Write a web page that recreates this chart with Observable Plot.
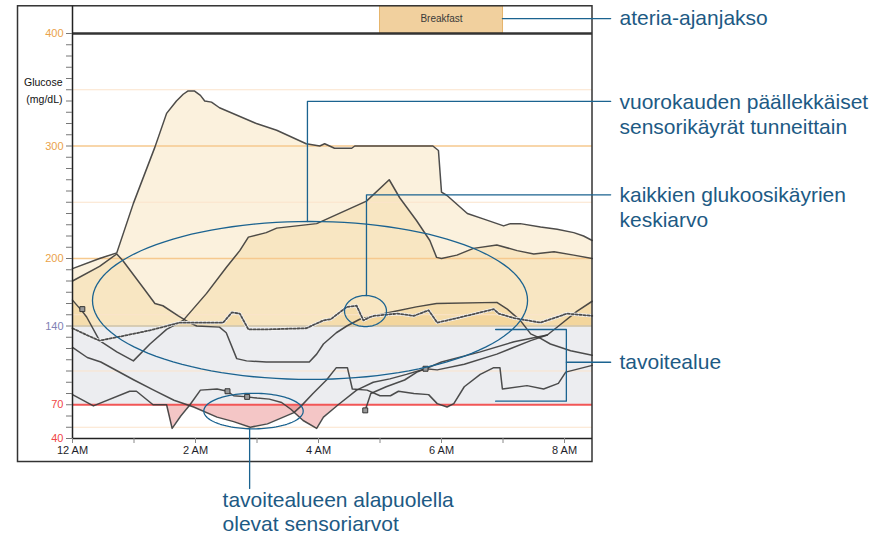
<!DOCTYPE html>
<html><head><meta charset="utf-8">
<script src="https://cdn.jsdelivr.net/npm/d3@7"></script>
<script src="https://cdn.jsdelivr.net/npm/@observablehq/plot@0.6"></script>
<style>body{margin:0;background:#fff;font-family:"Liberation Sans",Arial,sans-serif}</style>
</head><body><div id="chart"></div>
<script>
// ---- data: hours after midnight, glucose mg/dL ----
const curveA = [[0,191],[0.44,200],[0.72,205],[0.99,249],[1.34,299],[1.53,329],[1.69,340],[1.8,346],[1.88,349],[1.98,349],[2.08,345],[2.15,340],[2.26,339],[2.39,334],[2.99,320],[3.32,314],[3.80,302],[4.02,300],[4.1,302],[4.26,298],[4.54,298],[4.59,300],[5.86,300],[5.95,296],[6.0,259],[6.09,256],[6.42,240],[6.69,235],[7.01,229],[7.12,231],[7.28,231],[7.61,228],[7.88,226],[8.15,223],[8.31,220],[8.45,216]];
const curveB = [[0,180],[0.44,193],[0.72,204],[0.82,198],[1.15,174],[1.34,160],[1.47,158],[1.72,149],[1.9,143],[2.02,140],[2.39,139],[2.5,134],[2.67,111],[2.83,109],[3.15,108],[3.85,108],[3.97,115],[4.08,124],[4.29,134],[4.46,140],[4.67,146],[5.15,152],[5.59,157],[5.92,160],[6.9,161],[7.07,155],[7.28,145],[7.45,133],[7.61,129],[7.77,124],[8.1,118],[8.45,114]];
const curveC = [[0,163],[0.16,153],[0.23,148],[0.44,127],[0.72,117],[0.99,109],[1.26,124],[1.53,137],[1.8,145],[2.18,169],[2.5,192],[2.72,207],[2.86,219],[3.15,223],[3.32,227],[3.97,231],[4.78,251],[5.15,270],[5.32,254],[5.59,234],[5.81,216],[5.92,201],[6.0,200],[6.25,203],[6.52,209],[6.9,212],[7.23,207],[7.5,204],[7.83,206],[8.15,203],[8.45,200]];
const curveD = [[0,121],[0.24,112],[0.46,108],[0.73,100],[1.0,92],[1.32,83],[1.65,74],[1.97,68],[2.35,59],[2.62,55],[2.89,50],[3.17,53],[3.6,63],[3.72,69],[3.91,80],[4.13,92],[4.29,103],[4.47,103],[4.55,84],[4.79,83],[5.0,78],[5.17,78],[5.3,82],[5.55,80],[5.79,79],[5.93,71],[6.09,68],[6.2,71],[6.37,86],[6.63,97],[6.85,103],[6.95,103],[6.99,84],[7.39,87],[7.66,84],[7.9,89],[8.02,99],[8.45,105]];
const curveE = [[0,79],[0.34,69],[0.93,82],[1.04,82],[1.31,70],[1.53,70],[1.62,49],[1.76,60],[1.91,70],[2.08,83],[2.35,84],[2.52,82],[2.62,78],[2.84,77],[3.0,76],[3.2,75],[3.4,72],[3.55,66],[3.75,56],[3.97,49],[4.08,59],[4.32,70],[4.62,83],[4.89,90],[5.16,93],[5.43,97],[5.74,102],[5.93,101],[6.37,106],[6.9,115],[7.45,127],[7.72,132],[7.95,142],[8.2,153],[8.45,162]];
const curveF = [[4.76,65],[4.85,80],[5.1,86],[5.4,92],[5.6,99],[5.74,102],[6.0,108],[6.63,117],[7.18,126],[7.72,132]];
const meanCurve = [[0,138],[0.23,132],[0.44,127],[0.72,130],[1.25,136],[1.53,140],[1.74,143],[2.45,143],[2.59,152],[2.72,151],[2.86,137],[3.15,137],[3.8,138],[4.08,145],[4.2,146],[4.46,157],[4.62,158],[4.73,145],[4.84,148],[4.9,149],[5.28,151],[5.55,149],[5.79,154],[5.93,143],[6.25,147],[6.63,152],[6.85,155],[6.93,151],[7.18,147],[7.61,143],[8.04,151],[8.45,149]];
const meterReadings = [[0.16,155],[2.52,82],[2.84,77],[4.76,65],[5.74,102]];
const meals = [{name: "Breakfast", start: 5, end: 7}];
const targetLow = 70, targetHigh = 140;
const yTickLabels = [40, 70, 140, 200, 300, 400];
const yTickColors = ["#f04646", "#f04646", "#8181b4", "#eaa24a", "#eaa24a", "#eaa24a"];
const xTickHours = [0,1,2,3,4,5,6,7,8];
const xTickText = {0: "12 AM", 2: "2 AM", 4: "4 AM", 6: "6 AM", 8: "8 AM"};
const xEnd = 8.455;

// annotations (data units)
const calloutSegments = [
  {id: "meal", pts: [[6.99,413.3],[8.75,413.3]]},
  {id: "overlay", pts: [[3.82,232.9],[3.82,339.6],[8.75,339.6]]},
  {id: "mean", pts: [[4.78,167.1],[4.78,256.6],[8.75,256.6]]},
  {id: "target", pts: [[6.88,136.9],[8.03,136.9],[8.03,73.2],[6.88,73.2]]},
  {id: "target2", pts: [[8.03,107.8],[8.75,107.8]]},
  {id: "below", pts: [[2.88,48.6],[2.88,-4.4]]}
];
const calloutEllipses = [
  {id: "e1", cx: 3.862, cy: 162.7, rx: 3.537, ry: 70.2},
  {id: "e2", cx: 4.764, cy: 153.3, rx: 0.341, ry: 13.8},
  {id: "e3", cx: 2.943, cy: 64.4, rx: 0.808, ry: 15.8}
];
const calloutText = [
  {text: "ateria-ajanjakso", h: 8.894, v: 413.3},
  {text: "vuorokauden päällekkäiset", h: 8.894, v: 338.7},
  {text: "sensorikäyrät tunneittain", h: 8.894, v: 316.4},
  {text: "kaikkien glukoosikäyrien", h: 8.894, v: 256.0},
  {text: "keskiarvo", h: 8.894, v: 233.8},
  {text: "tavoitealue", h: 8.894, v: 107.6},
  {text: "tavoitealueen alapuolella", h: 2.44, v: -15.1},
  {text: "olevat sensoriarvot", h: 2.44, v: -36.4}
];
const axisTitle = [{text: "Glucose", v: 356.4}, {text: "(mg/dL)", v: 341.3}];
const outerFrame = {x1: -0.886, x2: xEnd, y1: 19.1, y2: 424.2};

// ---- build rows ----
const sensorSeries = [["A",curveA],["B",curveB],["C",curveC],["D",curveD],["E",curveE],["F",curveF]];
const sensorRows = sensorSeries.flatMap(([id, pts]) => pts.map(([h, v]) => ({id, h, v})));
const meanRows = meanCurve.map(([h, v]) => ({id: "mean", h, v}));

// fill geometry: the part of each curve beyond a threshold (the line's own crossing points)
function beyond(pts, thr, above) {
  const out = [];
  pts.forEach(([h, v], i) => {
    if (i > 0) {
      const [h0, v0] = pts[i - 1];
      if ((v0 - thr) * (v - thr) < 0) {
        const t = (thr - v0) / (v - v0);
        out.push([h0 + t * (h - h0), thr]);
      }
    }
    out.push([h, above ? Math.max(v, thr) : Math.min(v, thr)]);
  });
  return out;
}
const fillSeries = sensorSeries.concat([["mean", meanCurve]]);
const aboveRows = fillSeries.flatMap(([id, pts]) => beyond(pts, targetHigh, true).map(([h, v]) => ({id, h, v})));
const belowRows = fillSeries.flatMap(([id, pts]) => beyond(pts, targetLow, false).map(([h, v]) => ({id, h, v})));

const meterRows = meterReadings.map(([h, v]) => ({h, v}));
const segRows = calloutSegments.flatMap(s => s.pts.map(([h, v]) => ({id: s.id, h, v})));
const ellRows = calloutEllipses.flatMap(e => d3.range(0, 361, 3).map(a => ({id: e.id, h: e.cx + e.rx * Math.cos(a * Math.PI / 180), v: e.cy + e.ry * Math.sin(a * Math.PI / 180)})));
const yLabelRows = yTickLabels.map((v, i) => ({v, color: yTickColors[i]}));

const blue = "#1b6390";
const plot = Plot.plot({
  width: 892, height: 540,
  marginLeft: 72, marginRight: 300, marginTop: 33, marginBottom: 102,
  x: {domain: [0, xEnd]},
  y: {domain: [40, 400]},
  style: {fontFamily: "'Liberation Sans', Arial, sans-serif", background: "white", overflow: "visible"},
  marks: [
    Plot.rect([{lo: targetLow, hi: targetHigh}], {x1: 0, x2: xEnd, y1: "lo", y2: "hi", fill: "#ecedf0"}),
    Plot.areaY(aboveRows, {x: "h", y1: targetHigh, y2: "v", z: "id", fill: "#eebd66", fillOpacity: 0.22}),
    Plot.areaY(belowRows, {x: "h", y1: targetLow, y2: "v", z: "id", fill: "#de5858", fillOpacity: 0.34}),
    Plot.ruleY([50, 100, 150, 250, 350], {x1: 0, x2: xEnd, stroke: "#fbe3cb", strokeWidth: 1}),
    Plot.ruleY([200, 300], {x1: 0, x2: xEnd, stroke: "#f6c98e", strokeWidth: 1.3}),
    Plot.ruleY([targetHigh], {x1: 0, x2: xEnd, stroke: "#cfc2a4", strokeWidth: 1.5}),
    Plot.ruleY([targetLow], {x1: 0, x2: xEnd, stroke: "#f25656", strokeWidth: 2}),
    Plot.line(sensorRows, {x: "h", y: "v", z: "id", stroke: "#3a3a3a", strokeWidth: 1.5, strokeOpacity: 0.9}),
    Plot.line(meanRows, {x: "h", y: "v", stroke: "#f3f3f3", strokeWidth: 3.2}),
    Plot.line(meanRows, {x: "h", y: "v", stroke: "#4e4e4e", strokeWidth: 1.8, strokeDasharray: "2.2,1.8"}),
    Plot.dot(meterRows, {x: "h", y: "v", symbol: "square", r: 2.8, fill: "#9a9a9a", stroke: "#333", strokeWidth: 1}),
    // header + frame
    Plot.rect(meals, {x1: "start", x2: "end", y1: 400, y2: 424.2, fill: "#f1d09e", stroke: "#e6b56c"}),
    Plot.text(meals, {x: d => (d.start + d.end) / 2, y: 413.3, text: "name", fontSize: 10, fill: "#3a3a3a"}),
    Plot.rect([outerFrame], {x1: "x1", x2: "x2", y1: "y1", y2: "y2", fill: "none", stroke: "#333", strokeWidth: 1.5}),
    Plot.ruleY([400], {x1: 0, x2: xEnd, stroke: "#333", strokeWidth: 2.5}),
    Plot.ruleY([40], {x1: 0, x2: xEnd, stroke: "#222", strokeWidth: 1.5}),
    Plot.ruleX([0], {y1: 40, y2: 424.2, stroke: "#222", strokeWidth: 1.5}),
    // axes
    Plot.axisY(d3.range(40, 401, 10), {tickSize: 6, tickFormat: () => "", stroke: "#777", label: null}),
    Plot.text(yLabelRows, {x: 0, y: "v", text: d => String(d.v), dx: -9, textAnchor: "end", fill: "color", fontSize: 11}),
    Plot.text(axisTitle, {x: 0, y: "v", text: "text", dx: -10, textAnchor: "end", fill: "#111", fontSize: 10.5}),
    Plot.axisX(xTickHours, {tickSize: 5, tickPadding: 3, tickFormat: h => xTickText[h] || "", stroke: "#888", fill: "#1e1e2a", fontSize: 11, label: null}),
    // callouts
    Plot.line(ellRows, {x: "h", y: "v", z: "id", stroke: blue, strokeWidth: 1.3}),
    Plot.line(segRows, {x: "h", y: "v", z: "id", stroke: blue, strokeWidth: 1.3}),
    Plot.text(calloutText, {x: "h", y: "v", text: "text", textAnchor: "start", fill: "#1d5a84", fontSize: 21})
  ]
});
document.getElementById("chart").appendChild(plot);
</script></body></html>
